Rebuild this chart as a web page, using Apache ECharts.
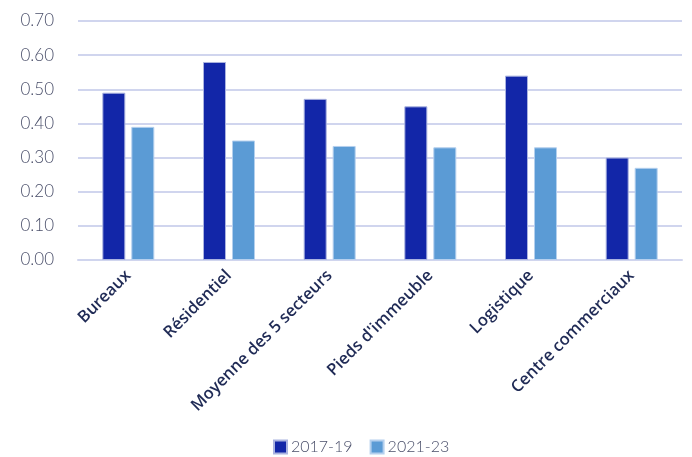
<!DOCTYPE html>
<html>
<head>
<meta charset="utf-8">
<script src="https://cdn.jsdelivr.net/npm/echarts@6/dist/echarts.min.js"></script>
<style>
  html, body { margin: 0; padding: 0; background: #ffffff; }
  #chart { width: 692px; height: 457px; }
</style>
</head>
<body>
<div id="chart"></div>
<script>
// Secteurs et valeurs par période
const categories = ['Bureaux', 'Résidentiel', 'Moyenne des 5 secteurs', "Pieds d'immeuble", 'Logistique', 'Centre commerciaux'];
const values2017_19 = [0.49, 0.58, 0.472, 0.45, 0.54, 0.30];
const values2021_23 = [0.39, 0.35, 0.334, 0.33, 0.33, 0.27];
const seriesNames = ['2017-19', '2021-23'];

const chart = echarts.init(document.getElementById('chart'));

chart.setOption({
  animation: false,
  grid: { left: 78, right: 10, top: 21, bottom: 197 },
  legend: {
    top: 434,
    left: 268,
    itemWidth: 13,
    itemHeight: 13,
    itemGap: 17,
    icon: 'rect',
    textStyle: { color: '#4a4f6a', fontSize: 16, fontFamily: 'Lato', fontWeight: 300, padding: [0, 0, 0, -1] },
    data: seriesNames
  },
  xAxis: {
    type: 'category',
    data: categories,
    axisLine: { lineStyle: { color: '#d0d5ee', width: 2 } },
    axisTick: { show: false },
    axisLabel: {
      rotate: 45,
      interval: 0,
      margin: 13,
      color: '#1f2a55',
      fontSize: 16.5,
      fontFamily: 'Open Sans',
      fontWeight: 600
    }
  },
  yAxis: {
    type: 'value',
    min: 0,
    max: 0.7,
    interval: 0.1,
    axisLine: { show: false },
    axisTick: { show: false },
    splitLine: { lineStyle: { color: '#d0d5ee', width: 2 } },
    axisLabel: {
      margin: 24,
      color: '#4a4f6a',
      fontSize: 17,
      fontFamily: 'Lato',
      fontWeight: 300,
      formatter: v => v.toFixed(2)
    }
  },
  series: [
    {
      name: seriesNames[0],
      type: 'bar',
      data: values2017_19,
      barWidth: 23,
      barGap: '26%',
      itemStyle: { color: '#1226a8', borderColor: '#aab3e0', borderWidth: 1 }
    },
    {
      name: seriesNames[1],
      type: 'bar',
      data: values2021_23,
      barWidth: 23,
      itemStyle: { color: '#5b9bd5', borderColor: '#b5d0ee', borderWidth: 1 }
    }
  ]
});
</script>
</body>
</html>
